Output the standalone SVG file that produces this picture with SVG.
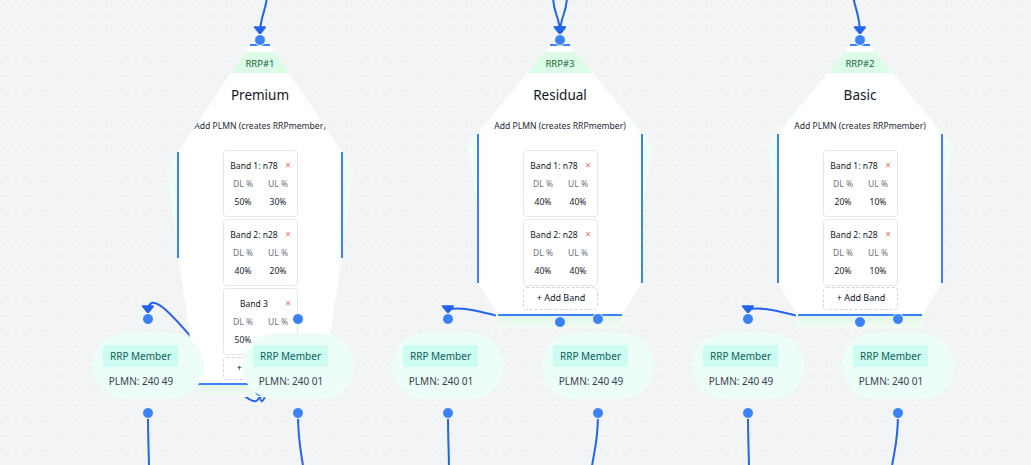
<svg xmlns="http://www.w3.org/2000/svg" width="1031" height="465" viewBox="0 0 1031 465">
<style>
.t{font-family:"Noto Sans","Open Sans",sans-serif}
.edge{fill:none;stroke:#2563eb;stroke-width:2}
.outer{fill:#f0fdf4}
.white{fill:#ffffff}
.hdr{fill:#dcfce7}
.bord{stroke:#3b82f6;stroke-width:2;fill:none}
.hdrt{font-size:9.5px;fill:#166534;text-anchor:middle}
.title{font-size:13.5px;fill:#111827;text-anchor:middle}
.sub{font-size:8.6px;fill:#1f2937;text-anchor:middle}
.card{fill:#ffffff;stroke:#e5e7eb;stroke-width:1}
.bt{font-size:8.5px;fill:#111827;text-anchor:middle}
.x{font-size:10px;fill:#f87171;text-anchor:middle}
.lbl{font-size:8.5px;fill:#6b7280;text-anchor:middle}
.val{font-size:8.5px;fill:#111827;text-anchor:middle}
.add{fill:#ffffff;stroke:#d1d5db;stroke-width:1;stroke-dasharray:3 2}
.addt{font-size:9px;fill:#111827;text-anchor:middle}
.pill{fill:#edfdf8}
.badge{fill:#ccfbf1}
.badget{font-size:10px;fill:#115e59;text-anchor:middle}
.plmn{font-size:10px;fill:#374151;text-anchor:middle}
.dot{fill:#3b82f6;stroke:#ffffff;stroke-width:1}
</style>
<defs>
<pattern id="grid" width="15" height="15" patternUnits="userSpaceOnUse"><circle cx="1" cy="1" r="0.7" fill="#d9dce1"/></pattern>
<marker id="arr" viewBox="-10 -10 20 20" markerWidth="28" markerHeight="28" markerUnits="userSpaceOnUse" orient="auto" refX="0" refY="0"><polyline points="-5,-4 0,0 -5,4 -5,-4" fill="#2563eb" stroke="#2563eb" stroke-width="1" stroke-linejoin="round"/></marker>
<linearGradient id="band" x1="0" y1="0" x2="0" y2="1"><stop offset="0" stop-color="#dff5e5"/><stop offset="1" stop-color="#f3fbf5"/></linearGradient>
<clipPath id="clip1"><polygon points="250,45 270,45 342,152 342,258 322,384 198,384 178,258 178,152"/></clipPath>
<clipPath id="clip3"><polygon points="550,45 570,45 642,134 642,283 622,315 498,315 478,283 478,134"/></clipPath>
<clipPath id="clip2"><polygon points="850,45 870,45 942,134 942,283 922,315 798,315 778,283 778,134"/></clipPath>
</defs>
<rect x="0" y="0" width="1031" height="465" fill="#f3f4f6"/>
<rect x="0" y="0" width="1031" height="465" fill="url(#grid)"/>

<g id="connectors">
<path class="edge" d="M267,-4 C266,12 260,16 260,34" marker-end="url(#arr)"/>
<path class="edge" d="M553,-4 C553,14 560,16 560,34" marker-end="url(#arr)"/>
<path class="edge" d="M567,-4 C567,14 560,16 560,34" marker-end="url(#arr)"/>
<path class="edge" d="M853,-4 C856,12 860,16 860,34" marker-end="url(#arr)"/>
<path class="edge" d="M260,391 C260,446 148,258 148,313" marker-end="url(#arr)"/>
<path class="edge" d="M260,391 C260,446 298,258 298,313" marker-end="url(#arr)"/>
<path class="edge" d="M560,322 C560,341 448,294 448,313" marker-end="url(#arr)"/>
<path class="edge" d="M560,322 C560,341 598,294 598,313" marker-end="url(#arr)"/>
<path class="edge" d="M860,322 C860,341 748,294 748,313" marker-end="url(#arr)"/>
<path class="edge" d="M860,322 C860,341 898,294 898,313" marker-end="url(#arr)"/>
<path class="edge" d="M148,413 C148,440 149,455 149,470"/>
<path class="edge" d="M298,413 C298,445 302,455 303.5,470"/>
<path class="edge" d="M448,413 C448,440 449,455 449,470"/>
<path class="edge" d="M598,413 C598,445 593,455 591.5,470"/>
<path class="edge" d="M748,413 C748,440 749,455 749,470"/>
<path class="edge" d="M898,413 C898,445 893,455 891.5,470"/>
</g>

<g id="rrp-1">
<polygon class="outer" points="250,45 270,45 353,172 322,397 198,397 167,172"/>
<polygon class="white" points="250,45 270,45 342,152 342,258 322,384 198,384 178,258 178,152"/>
<polygon fill="url(#band)" points="198,384 322,384 320,397 200,397"/>
<g clip-path="url(#clip1)" class="t">
<rect class="hdr" x="150" y="52" width="220" height="21"/>
<text class="hdrt" x="260" y="66.5">RRP#1</text>
<text class="title" x="260" y="100">Premium</text>
<text class="sub" x="260" y="129">Add PLMN (creates RRPmember)</text>
<rect class="card" x="223.5" y="150.5" width="74" height="66" rx="3"/>
<text class="bt" x="254" y="169">Band 1: n78</text><text class="x" x="288" y="169">×</text>
<text class="lbl" x="243" y="187">DL %</text><text class="lbl" x="278" y="187">UL %</text>
<text class="val" x="243" y="205">50%</text><text class="val" x="278" y="205">30%</text>
<rect class="card" x="223.5" y="219.5" width="74" height="66" rx="3"/>
<text class="bt" x="254" y="238">Band 2: n28</text><text class="x" x="288" y="238">×</text>
<text class="lbl" x="243" y="256">DL %</text><text class="lbl" x="278" y="256">UL %</text>
<text class="val" x="243" y="274">40%</text><text class="val" x="278" y="274">20%</text>
<rect class="card" x="223.5" y="288.5" width="74" height="66" rx="3"/>
<text class="bt" x="254" y="307">Band 3</text><text class="x" x="288" y="307">×</text>
<text class="lbl" x="243" y="325">DL %</text><text class="lbl" x="278" y="325">UL %</text>
<text class="val" x="243" y="343">50%</text>
<rect class="add" x="223.5" y="357.5" width="74" height="22" rx="3"/>
<text class="addt" x="261" y="371">+ Add Band</text>
</g>
<line class="bord" x1="250" y1="45" x2="270" y2="45"/>
<line class="bord" x1="178" y1="152" x2="178" y2="258"/>
<line class="bord" x1="342" y1="152" x2="342" y2="258"/>
<line class="bord" x1="198" y1="384" x2="322" y2="384"/>
<circle class="dot" cx="260" cy="40" r="5.5"/>
<circle class="dot" cx="260" cy="391" r="5.5"/>
</g>

<g id="rrp-3">
<polygon class="outer" points="550,45 570,45 653,145 622,328 498,328 467,145"/>
<polygon class="white" points="550,45 570,45 642,134 642,283 622,315 498,315 478,283 478,134"/>
<polygon fill="url(#band)" points="498,315 622,315 620,328 500,328"/>
<g clip-path="url(#clip3)" class="t">
<rect class="hdr" x="450" y="52" width="220" height="21"/>
<text class="hdrt" x="560" y="66.5">RRP#3</text>
<text class="title" x="560" y="100">Residual</text>
<text class="sub" x="560" y="129">Add PLMN (creates RRPmember)</text>
<rect class="card" x="523.5" y="150.5" width="74" height="66" rx="3"/>
<text class="bt" x="554" y="169">Band 1: n78</text><text class="x" x="588" y="169">×</text>
<text class="lbl" x="543" y="187">DL %</text><text class="lbl" x="578" y="187">UL %</text>
<text class="val" x="543" y="205">40%</text><text class="val" x="578" y="205">40%</text>
<rect class="card" x="523.5" y="219.5" width="74" height="66" rx="3"/>
<text class="bt" x="554" y="238">Band 2: n28</text><text class="x" x="588" y="238">×</text>
<text class="lbl" x="543" y="256">DL %</text><text class="lbl" x="578" y="256">UL %</text>
<text class="val" x="543" y="274">40%</text><text class="val" x="578" y="274">40%</text>
<rect class="add" x="523.5" y="287.5" width="74" height="22" rx="3"/>
<text class="addt" x="561" y="301">+ Add Band</text>
</g>
<line class="bord" x1="550" y1="45" x2="570" y2="45"/>
<line class="bord" x1="478" y1="134" x2="478" y2="283"/>
<line class="bord" x1="642" y1="134" x2="642" y2="283"/>
<line class="bord" x1="498" y1="315" x2="622" y2="315"/>
<circle class="dot" cx="560" cy="40" r="5.5"/>
<circle class="dot" cx="560" cy="322" r="5.5"/>
</g>

<g id="rrp-2">
<polygon class="outer" points="850,45 870,45 953,145 922,328 798,328 767,145"/>
<polygon class="white" points="850,45 870,45 942,134 942,283 922,315 798,315 778,283 778,134"/>
<polygon fill="url(#band)" points="798,315 922,315 920,328 800,328"/>
<g clip-path="url(#clip2)" class="t">
<rect class="hdr" x="750" y="52" width="220" height="21"/>
<text class="hdrt" x="860" y="66.5">RRP#2</text>
<text class="title" x="860" y="100">Basic</text>
<text class="sub" x="860" y="129">Add PLMN (creates RRPmember)</text>
<rect class="card" x="823.5" y="150.5" width="74" height="66" rx="3"/>
<text class="bt" x="854" y="169">Band 1: n78</text><text class="x" x="888" y="169">×</text>
<text class="lbl" x="843" y="187">DL %</text><text class="lbl" x="878" y="187">UL %</text>
<text class="val" x="843" y="205">20%</text><text class="val" x="878" y="205">10%</text>
<rect class="card" x="823.5" y="219.5" width="74" height="66" rx="3"/>
<text class="bt" x="854" y="238">Band 2: n28</text><text class="x" x="888" y="238">×</text>
<text class="lbl" x="843" y="256">DL %</text><text class="lbl" x="878" y="256">UL %</text>
<text class="val" x="843" y="274">20%</text><text class="val" x="878" y="274">10%</text>
<rect class="add" x="823.5" y="287.5" width="74" height="22" rx="3"/>
<text class="addt" x="861" y="301">+ Add Band</text>
</g>
<line class="bord" x1="850" y1="45" x2="870" y2="45"/>
<line class="bord" x1="778" y1="134" x2="778" y2="283"/>
<line class="bord" x1="942" y1="134" x2="942" y2="283"/>
<line class="bord" x1="798" y1="315" x2="922" y2="315"/>
<circle class="dot" cx="860" cy="40" r="5.5"/>
<circle class="dot" cx="860" cy="322" r="5.5"/>
</g>

<g id="member-1a" class="t">
<rect class="pill" x="92" y="333" width="112" height="66" rx="33"/>
<rect class="badge" x="103" y="345" width="75" height="22" rx="2"/>
<text class="badget" x="140.5" y="359.5">RRP Member</text>
<text class="plmn" x="141" y="384.5">PLMN: 240 49</text>
<circle class="dot" cx="148" cy="319" r="5.5"/><circle class="dot" cx="148" cy="413" r="5.5"/>
</g>
<g id="member-1b" class="t">
<rect class="pill" x="242" y="333" width="112" height="66" rx="33"/>
<rect class="badge" x="253" y="345" width="75" height="22" rx="2"/>
<text class="badget" x="290.5" y="359.5">RRP Member</text>
<text class="plmn" x="291" y="384.5">PLMN: 240 01</text>
<circle class="dot" cx="298" cy="319" r="5.5"/><circle class="dot" cx="298" cy="413" r="5.5"/>
</g>
<g id="member-3a" class="t">
<rect class="pill" x="392" y="333" width="112" height="66" rx="33"/>
<rect class="badge" x="403" y="345" width="75" height="22" rx="2"/>
<text class="badget" x="440.5" y="359.5">RRP Member</text>
<text class="plmn" x="441" y="384.5">PLMN: 240 01</text>
<circle class="dot" cx="448" cy="319" r="5.5"/><circle class="dot" cx="448" cy="413" r="5.5"/>
</g>
<g id="member-3b" class="t">
<rect class="pill" x="542" y="333" width="112" height="66" rx="33"/>
<rect class="badge" x="553" y="345" width="75" height="22" rx="2"/>
<text class="badget" x="590.5" y="359.5">RRP Member</text>
<text class="plmn" x="591" y="384.5">PLMN: 240 49</text>
<circle class="dot" cx="598" cy="319" r="5.5"/><circle class="dot" cx="598" cy="413" r="5.5"/>
</g>
<g id="member-2a" class="t">
<rect class="pill" x="692" y="333" width="112" height="66" rx="33"/>
<rect class="badge" x="703" y="345" width="75" height="22" rx="2"/>
<text class="badget" x="740.5" y="359.5">RRP Member</text>
<text class="plmn" x="741" y="384.5">PLMN: 240 49</text>
<circle class="dot" cx="748" cy="319" r="5.5"/><circle class="dot" cx="748" cy="413" r="5.5"/>
</g>
<g id="member-2b" class="t">
<rect class="pill" x="842" y="333" width="112" height="66" rx="33"/>
<rect class="badge" x="853" y="345" width="75" height="22" rx="2"/>
<text class="badget" x="890.5" y="359.5">RRP Member</text>
<text class="plmn" x="891" y="384.5">PLMN: 240 01</text>
<circle class="dot" cx="898" cy="319" r="5.5"/><circle class="dot" cx="898" cy="413" r="5.5"/>
</g>
</svg>
